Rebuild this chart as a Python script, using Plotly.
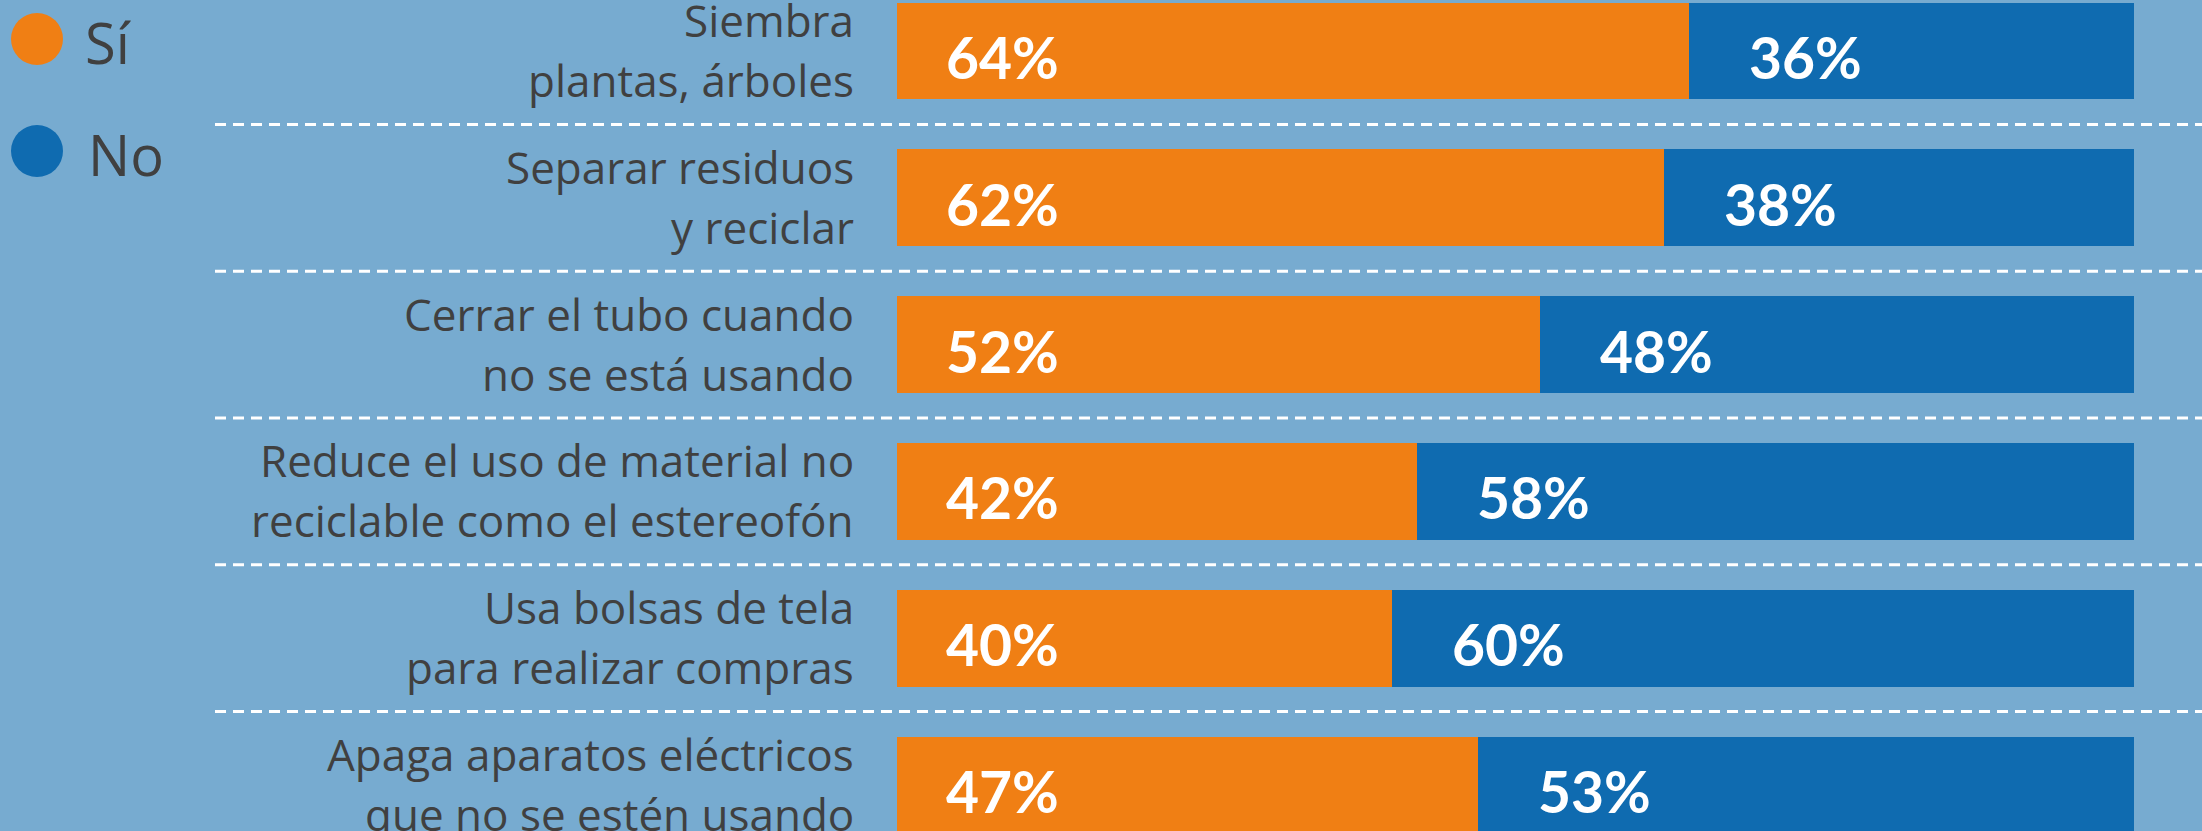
import plotly.graph_objects as go

# ---- data ----
categories = [
    "Siembra<br>plantas, árboles",
    "Separar residuos<br>y reciclar",
    "Cerrar el tubo cuando<br>no se está usando",
    "Reduce el uso de material no<br>reciclable como el estereofón",
    "Usa bolsas de tela<br>para realizar compras",
    "Apaga aparatos eléctricos<br>que no se estén usando",
]
si_values = [64, 62, 52, 42, 40, 47]
no_values = [36, 38, 48, 58, 60, 53]
series_names = ["Sí", "No"]

# ---- style ----
W, H = 2202, 831
L, R = 897, 68
PW = W - L - R
BG = "#77ABD0"
ORANGE = "#F07F14"
BLUE = "#0F6BB0"
GREY = "#404040"
FONT = "Lato"
LABEL_FONT = "Open Sans"


def px_x(p):
    return (p - L) / PW


def px_y(p):
    return 1 - p / H


fig = go.Figure()
fig.add_trace(go.Bar(y=categories, x=si_values, orientation="h", name=series_names[0],
                     marker=dict(color=ORANGE, line=dict(width=0)), width=0.66,
                     hoverinfo="skip"))
fig.add_trace(go.Bar(y=categories, x=no_values, orientation="h", name=series_names[1],
                     marker=dict(color=BLUE, line=dict(width=0)), width=0.66,
                     hoverinfo="skip"))

annotations = []
shapes = []
for i, cat in enumerate(categories):
    lines = cat.split("<br>")
    shifts = [31, -29]
    for ln, sh in zip(lines, shifts):
        annotations.append(dict(
            x=px_x(856), xref="paper", y=cat, yref="y", text=ln, showarrow=False,
            xanchor="right", yanchor="middle", yshift=sh,
            font=dict(family=LABEL_FONT, size=44, color=GREY)))
    annotations.append(dict(
        x=0, xref="x", y=cat, yref="y", text=f"{si_values[i]}%", showarrow=False,
        xanchor="left", yanchor="middle", xshift=47, yshift=-6,
        font=dict(family=FONT, size=57, color="white", weight="bold")))
    annotations.append(dict(
        x=si_values[i], xref="x", y=cat, yref="y", text=f"{no_values[i]}%", showarrow=False,
        xanchor="left", yanchor="middle", xshift=58, yshift=-6,
        font=dict(family=FONT, size=57, color="white", weight="bold")))
    if i < len(categories) - 1:
        shapes.append(dict(type="line", xref="paper", yref="y",
                           x0=px_x(215), x1=px_x(W + 5), y0=i + 0.5, y1=i + 0.5,
                           line=dict(color="white", width=3, dash="11px,7px")))

# legend drawn manually (large circles)
legend_items = [(series_names[0], ORANGE, 39, 83), (series_names[1], BLUE, 151, 86)]
for name, col, cy, tx in legend_items:
    shapes.append(dict(type="circle", xref="paper", yref="paper",
                       x0=px_x(11), x1=px_x(63), y0=px_y(cy + 26), y1=px_y(cy - 26),
                       fillcolor=col, line=dict(width=0)))
    annotations.append(dict(x=px_x(tx), xref="paper", y=px_y(cy + 3), yref="paper",
                            text=name, showarrow=False, xanchor="left", yanchor="middle",
                            font=dict(family=LABEL_FONT, size=56, color=GREY)))

fig.update_layout(
    width=W, height=H,
    margin=dict(l=L, r=R, t=0, b=0, pad=0),
    paper_bgcolor=BG, plot_bgcolor=BG,
    barmode="stack", bargap=0,
    showlegend=False,
    xaxis=dict(range=[0, 100], visible=False, showgrid=False, zeroline=False, fixedrange=True),
    yaxis=dict(type="category", categoryorder="array", categoryarray=categories,
               range=[5.3134, -0.3474], visible=False, showgrid=False, zeroline=False,
               fixedrange=True),
    annotations=annotations,
    shapes=shapes,
    hovermode=False,
)

fig.write_html(
    "out.html",
    config={"displayModeBar": False},
    post_script="document.body.style.margin='0';document.body.style.padding='0';"
                "document.body.style.overflow='hidden';document.body.style.background='" + BG + "';",
)
